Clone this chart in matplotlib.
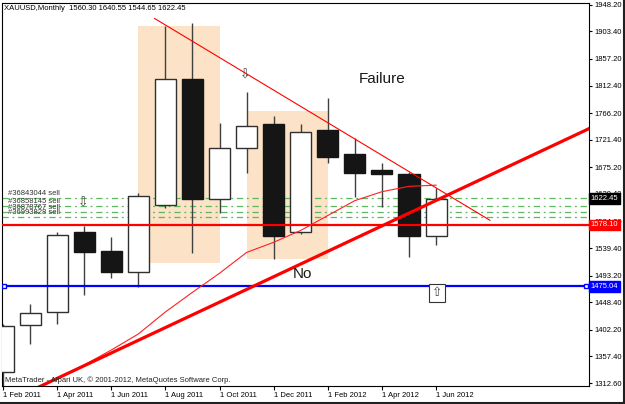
import numpy as np
import matplotlib.pyplot as plt
import matplotlib.transforms as mtransforms
from matplotlib.patches import Rectangle

plt.rcParams['font.family'] = ['Liberation Sans', 'DejaVu Sans']

# monthly XAUUSD bars, Feb 2011 .. Jun 2012
months = ['Feb 2011', 'Mar 2011', 'Apr 2011', 'May 2011', 'Jun 2011', 'Jul 2011', 'Aug 2011',
          'Sep 2011', 'Oct 2011', 'Nov 2011', 'Dec 2011', 'Jan 2012', 'Feb 2012', 'Mar 2012',
          'Apr 2012', 'May 2012', 'Jun 2012']
opens = [1331, 1410, 1432, 1566, 1534, 1499, 1611, 1824, 1621, 1708, 1747, 1566, 1737, 1697, 1671, 1663, 1560.30]
highs = [1411, 1445, 1566, 1576, 1558, 1631, 1913, 1918, 1750, 1801, 1762, 1747, 1791, 1724, 1682, 1667, 1640.55]
lows = [1308, 1378, 1412, 1460, 1489, 1474, 1606, 1531, 1598, 1665, 1521, 1563, 1683, 1625, 1609, 1524, 1544.65]
closes = [1409, 1430, 1562, 1532, 1499, 1626, 1824, 1621, 1708, 1745, 1559, 1735, 1693, 1665, 1663, 1559, 1622.45]

# moving average (thin red), from bar 2 on
ma_idx = [2, 3, 4, 5, 6, 7, 8, 9, 10, 11, 12, 13, 14, 15, 16]
ma_val = [1321, 1343, 1368, 1395, 1432, 1465, 1497, 1532, 1549, 1569, 1594, 1619, 1634, 1643, 1645]

# trend lines (bar index, price)
down_idx = [5.6, 17.99]
down_val = [1925, 1586]
up_idx = [1.0, 21.7]
up_val = [1299, 1741]

# horizontal levels
red_level = 1578.10
blue_level = 1475.04
sell_levels = [1622.9, 1610.3, 1600.2, 1591.8]
sell_labels = ['#36843044 sell', '#36858145 sell', '#36878767 sell', '#36993828 sell']

# highlighted zones (x0, x1, y0, y1)
zones = [(5.0, 8.0, 1515, 1913), (9.0, 12.0, 1521, 1770)]

yticks = [1948.20, 1903.40, 1857.20, 1812.40, 1766.20, 1721.40, 1675.20, 1630.40,
          1584.20, 1539.40, 1493.20, 1448.40, 1402.20, 1357.40, 1312.60]

fig = plt.figure(figsize=(6.25, 4.04), dpi=100)
ax = fig.add_axes([2/625, 18/404, 587/625, 383.3/404])

x = np.arange(len(months))
ax.set_xlim(-0.037, 21.65)
ax.set_ylim(1307.6, 1951.5)

for (x0, x1, y0, y1) in zones:
    ax.add_patch(Rectangle((x0, y0), x1 - x0, y1 - y0, facecolor='#FCE2C6', edgecolor='none', zorder=0))

for lvl in sell_levels:
    ax.axhline(lvl, color='#5CB85C', lw=0.9, ls=(0, (5, 3, 1.5, 3)), zorder=1)
for lvl, lab in zip(sell_levels, sell_labels):
    ax.text(0.2, lvl + 2, lab, fontsize=5.5, color='#333333', va='bottom', ha='left', zorder=4)

# candles
o = np.array(opens); c = np.array(closes)
ax.vlines(x, lows, highs, color='#404040', lw=1, zorder=2)
up = c >= o
ax.bar(x[up], (c - o)[up], bottom=o[up], width=0.78, color='white', edgecolor='#303030', lw=1, zorder=3)
ax.bar(x[~up], (o - c)[~up], bottom=c[~up], width=0.78, color='#151515', edgecolor='#151515', lw=1, zorder=3)

ax.axhline(red_level, color='#FF0000', lw=1.6, zorder=4)
ax.axhline(blue_level, color='#0000FF', lw=1.6, zorder=4)
ax.plot([0.05, 21.55], [blue_level, blue_level], ls='none', marker='s', ms=3.5, mfc='white', mec='#0000FF', mew=1, zorder=5)

ax.plot(ma_idx, ma_val, color='#FF2020', lw=0.8, zorder=5)
ax.plot(down_idx, down_val, color='#FF0000', lw=0.8, zorder=5)
ax.plot(up_idx, up_val, color='#FF0000', lw=2.3, zorder=5)

ax.text(8.94, 1829, '\u21e9', family='DejaVu Sans', fontsize=9, color='#444444', ha='center', va='center', zorder=6)
ax.text(2.97, 1614, '\u21e9', family='DejaVu Sans', fontsize=9, color='#444444', ha='center', va='center', zorder=6)
ax.text(16.03, 1464.4, '\u21e7', family='DejaVu Sans', fontsize=9, color='#444444', ha='center', va='center', zorder=6,
        bbox=dict(boxstyle='square,pad=0.2', facecolor='white', edgecolor='#333333', lw=0.8))

ax.text(13.99, 1823, 'Failure', fontsize=11, color='#1a1a1a', ha='center', va='center', zorder=6)
ax.text(11.05, 1495, 'No', fontsize=11, color='#1a1a1a', ha='center', va='center', zorder=6)

ax.text(0.005, 0.005, 'MetaTrader - Alpari UK, \u00a9 2001-2012, MetaQuotes Software Corp.',
        transform=ax.transAxes, fontsize=5.5, color='#222222', ha='left', va='bottom', zorder=6)

# axes
ax.yaxis.tick_right()
ax.set_yticks(yticks)
ax.set_yticklabels(['%.2f' % v for v in yticks])
ax.tick_params(axis='y', length=2, width=0.8, labelsize=5.5, pad=2, colors='black')
ax.set_xticks(x[::2])
ax.set_xticklabels(['1 ' + m for m in months[::2]], ha='left')
ax.tick_params(axis='x', length=3, width=0.8, labelsize=5.5, pad=1)
for sp in ax.spines.values():
    sp.set_color('black')
    sp.set_linewidth(0.8)

# price boxes on the right
trans = mtransforms.blended_transform_factory(ax.transAxes, ax.transData)
for val, fc in [(closes[-1], 'black'), (red_level, '#FF0000'), (blue_level, '#0000FF')]:
    ax.text(1.003, val, '%.2f' % val, transform=trans, fontsize=5.5, color='white', ha='left', va='center',
            clip_on=False, zorder=10, bbox=dict(boxstyle='square,pad=0.25', facecolor=fc, edgecolor=fc))

fig.text(4/625, 1 - 8/404, 'XAUUSD,Monthly  1560.30 1640.55 1544.65 1622.45', fontsize=5.5, color='black',
         ha='left', va='center')

# outer frame
fig.add_artist(plt.Line2D([0, 1], [1/404, 1/404], color='#202020', lw=1.5, transform=fig.transFigure))
fig.add_artist(plt.Line2D([1 - 1/625, 1 - 1/625], [0, 1], color='#202020', lw=1.5, transform=fig.transFigure))

fig.savefig('out.png', dpi=100)
